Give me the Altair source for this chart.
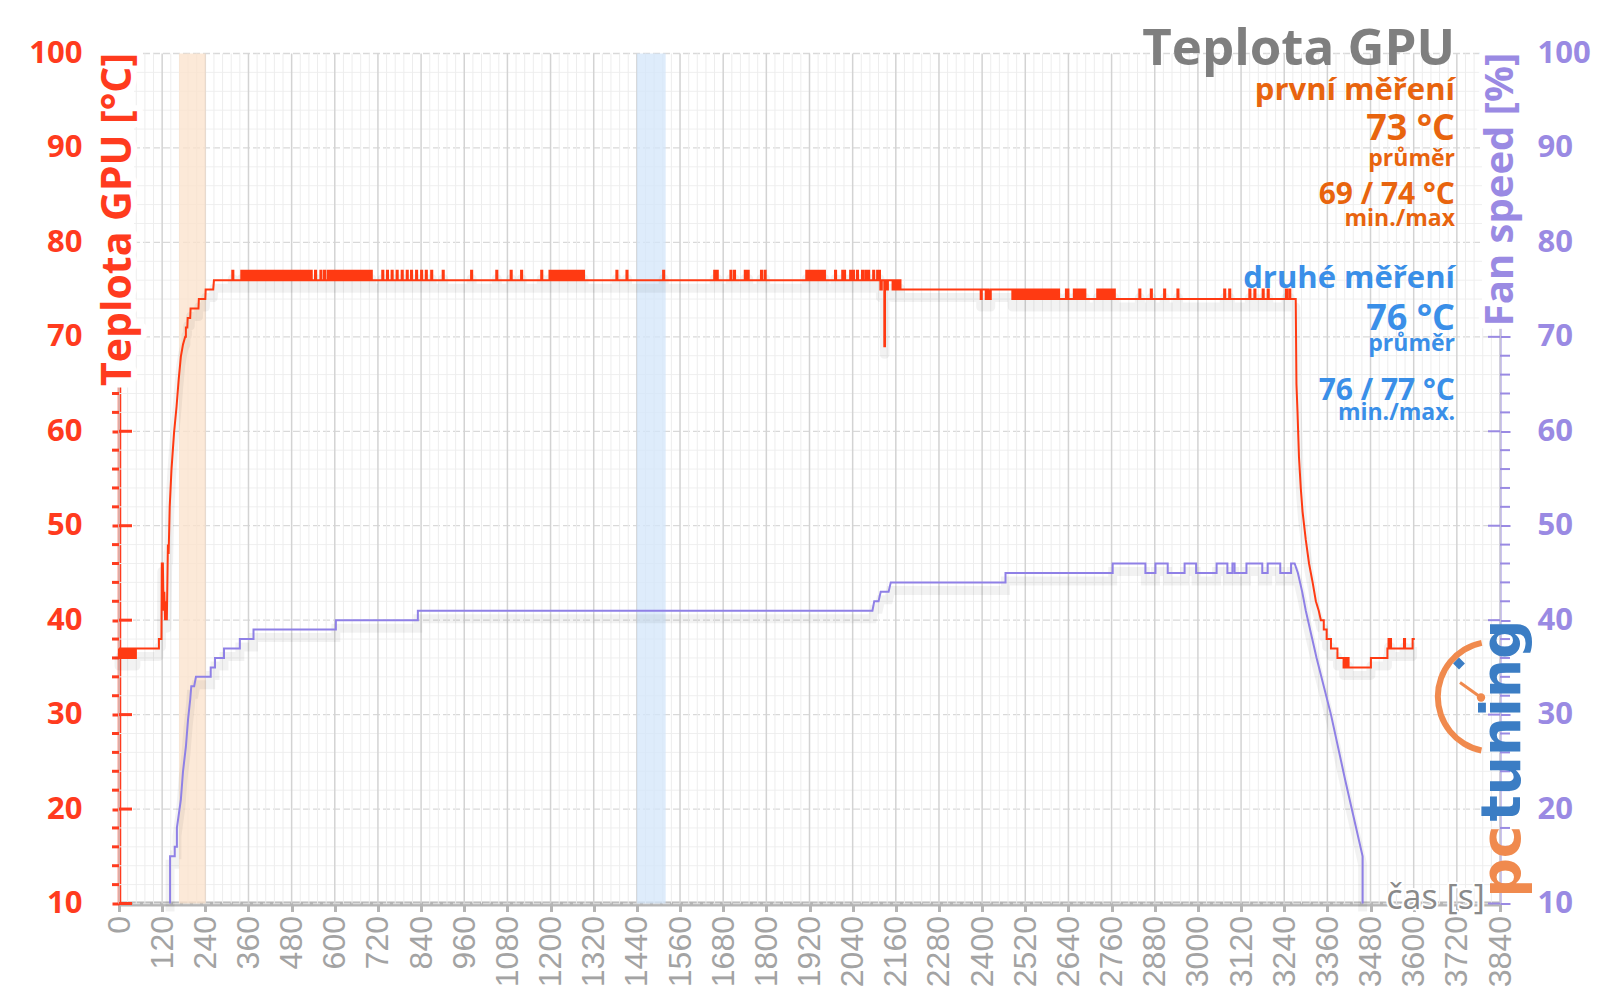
import math
import altair as alt
import pandas as pd

# ---------------- data ----------------
X_TICKS = list(range(0, 3841, 120))
Y_TICKS = list(range(10, 101, 10))
X_MINOR = [t for t in range(0, 3841, 24) if t % 120]
Y_MINOR = [v for v in range(10, 101, 2) if v % 10]

BAND_ORANGE = [167, 241]
BAND_BLUE = [1440, 1520]

TEMP_START_DIPS = [0, 4, 8, 12, 16, 20, 24, 28, 32, 36, 40, 44]
RAMP_T = [111, 111, 118, 119, 122, 124, 126, 128, 131, 133, 136, 138, 141, 146, 153, 160,
          166, 172, 178, 184, 186, 186, 190, 191, 198, 199, 221, 222, 240, 241, 262, 264]
RAMP_V = [37, 38, 38, 46, 46, 41, 43, 40, 42, 40, 48, 47, 52, 56, 59.8, 62.6,
          65.5, 67.9, 69.2, 70, 70, 71, 71, 72, 72, 73, 73, 74, 74, 75, 75, 76]
SPIKES_77 = [315, 340, 344, 348, 353, 357, 362, 366, 371, 375, 380, 385, 389, 394, 398, 403,
             408, 412, 417, 421, 426, 431, 435, 440, 445, 449, 454, 459, 463, 468, 472, 477,
             482, 486, 491, 496, 500, 505, 510, 514, 519, 524, 528, 533, 545, 560, 570, 580,
             585, 590, 595, 600, 605, 610, 615, 620, 625, 630, 635, 640, 645, 650, 655, 660,
             665, 670, 675, 680, 685, 690, 695, 700, 732, 745, 758, 772, 786, 800, 812, 826,
             840, 853, 868, 900, 979, 1049, 1089, 1118, 1174, 1197, 1204, 1212, 1220, 1228,
             1235, 1243, 1250, 1258, 1266, 1274, 1282, 1290, 1383, 1411, 1513, 1655, 1662,
             1700, 1710, 1740, 1748, 1785, 1795, 1911, 1918, 1925, 1932, 1940, 1947, 1955,
             1960, 1991, 2011, 2016, 2033, 2041, 2052, 2066, 2075, 2083, 2097, 2108, 2113]
TRANS_T = [2117, 2121, 2121, 2128, 2128, 2130, 2130, 2134, 2134, 2138, 2138, 2150]
TRANS_V = [75, 75, 76, 76, 69, 69, 76, 76, 75, 75, 76, 76]
BLOCK_DIPS_75 = [2151, 2155, 2159, 2163, 2167]
DIPS_74 = [2396, 2410, 2414, 2418, 2421]
SPIKES_75 = [2486, 2491, 2496, 2501, 2506, 2511, 2516, 2521, 2526, 2531, 2536, 2541, 2546,
             2551, 2556, 2561, 2566, 2571, 2576, 2581, 2586, 2591, 2596, 2601, 2606, 2611,
             2633, 2637, 2655, 2660, 2665, 2672, 2678, 2684, 2720, 2726, 2732, 2740, 2746,
             2752, 2760, 2766, 2837, 2869, 2906, 2943, 3073, 3087, 3143, 3157, 3180, 3194,
             3245, 3254]
DROP_T = [3272, 3274, 3277, 3281, 3286, 3291, 3300, 3309, 3319, 3328, 3336, 3342, 3350, 3350,
          3358, 3358, 3370, 3370, 3388, 3388, 3405, 3405]
DROP_V = [74, 65, 62, 57.3, 54, 51.5, 48.5, 46, 44, 42, 41, 40, 40, 39,
          39, 38, 38, 37, 37, 36, 36, 35]
SPIKES_36 = [3408, 3412, 3416]
SPIKES_38 = [3530, 3534, 3573]

FAN_T = [142, 142, 155, 155, 161, 161, 172, 178, 186, 192, 198, 201, 209, 214,
         255, 255, 267, 267, 292, 292, 336, 336, 374, 374, 603, 603, 831, 831,
         2095, 2100, 2112, 2118, 2140, 2146, 2465, 2465, 2763, 2763,
         2854, 2854, 2882, 2882, 2916, 2916, 2963, 2963, 2995, 2995, 3052, 3052,
         3082, 3082, 3096, 3096, 3102, 3102, 3135, 3135, 3179, 3179, 3194, 3194,
         3229, 3229, 3259, 3259, 3269, 3278, 3290, 3300, 3330, 3370, 3410, 3440, 3458, 3458]
FAN_V = [10, 15, 15, 16, 16, 18, 21, 24, 26.6, 29.5, 31.6, 33, 33, 34,
         34, 35, 35, 36, 36, 37, 37, 38, 38, 39, 39, 40, 40, 41,
         41, 42, 42, 43, 43, 44, 44, 45, 45, 46,
         46, 45, 45, 46, 46, 45, 45, 46, 46, 45, 45, 46,
         46, 45, 45, 46, 46, 45, 45, 46, 46, 45, 45, 46,
         46, 45, 45, 46, 46, 45, 43, 41, 36, 30, 23, 18, 15, 10]

# ---------------- build temperature path ----------------
pts = []


def add(t, v):
    pts.append((t, v))


def plateau(t0, t1, base, marks, delta, w=3):
    add(t0, base)
    for s in marks:
        add(s, base)
        add(s, base + delta)
        add(s + w, base + delta)
        add(s + w, base)
    add(t1, base)


plateau(0, 111, 37, TEMP_START_DIPS, -1)
for t, v in zip(RAMP_T, RAMP_V):
    add(t, v)
plateau(264, 2117, 76, SPIKES_77, +1)
for t, v in zip(TRANS_T, TRANS_V):
    add(t, v)
plateau(2150, 2173, 76, BLOCK_DIPS_75, -1)
add(2173, 75)
plateau(2173, 2484, 75, DIPS_74, -1)
add(2484, 74)
plateau(2484, 3272, 74, SPIKES_75, +1)
for t, v in zip(DROP_T, DROP_V):
    add(t, v)
plateau(3405, 3481, 35, SPIKES_36, +1)
add(3481, 36)
add(3527, 36)
add(3527, 37)
plateau(3527, 3597, 37, SPIKES_38, +1)
add(3597, 38)
add(3603, 38)

temp_df = pd.DataFrame({"t": [p[0] for p in pts], "v": [p[1] for p in pts],
                        "i": list(range(len(pts)))})
fan_df = pd.DataFrame({"t": FAN_T, "f": FAN_V, "i": list(range(len(FAN_T)))})

# ---------------- styling ----------------
W, H = 1381, 850
RED = "#FF3B1E"
TEMP_COLOR = "#FF3A12"
FAN_COLOR = "#8F80E6"
PURPLE = "#9A8AE3"
ORANGE_TXT = "#E8640E"
BLUE_TXT = "#3A8FE8"
FONT = "Open Sans"

xs = alt.Scale(domain=[0, 3840], nice=False, zero=False)
ys = alt.Scale(domain=[10, 100], nice=False, zero=False)
fs = alt.Scale(domain=[10, 100], nice=False, zero=False)

x_axis = alt.Axis(values=X_TICKS, format="d", labelAngle=270, labelFont="Liberation Sans",
                  labelFontSize=32, labelColor="#a3a3a3", labelPadding=4,
                  tickColor="#b5b5b5", tickWidth=3, tickSize=8,
                  domainColor="#b5b5b5", domainWidth=5, grid=False, title=None,
                  labelOverlap=False, labelFlush=False)
y_axis = alt.Axis(orient="left", values=Y_TICKS, labelFont=FONT, labelFontSize=31,
                  labelFontWeight="bold", labelColor=RED, labelPadding=30,
                  tickColor=RED, tickWidth=3, tickSize=7, domainColor=RED,
                  domainWidth=3.5, grid=False, title=None)
f_axis = alt.Axis(orient="right", values=Y_TICKS, labelFont=FONT, labelFontSize=31,
                  labelFontWeight="bold", labelColor=PURPLE, labelPadding=27,
                  tickColor=PURPLE, tickWidth=2, tickSize=10, domainColor=PURPLE,
                  domainWidth=2, grid=False, title=None)

X = lambda f: alt.X(f, type="quantitative", scale=xs, axis=x_axis)
Y = lambda f: alt.Y(f, type="quantitative", scale=ys, axis=y_axis)
F = lambda f: alt.Y(f, type="quantitative", scale=fs, axis=f_axis)

ymin_df = pd.DataFrame({"v": Y_MINOR})
ymaj_df = pd.DataFrame({"v": Y_TICKS})
xmin_df = pd.DataFrame({"t": X_MINOR})
xmaj_df = pd.DataFrame({"t": X_TICKS})
band_df = pd.DataFrame({"a": [BAND_ORANGE[0], BAND_BLUE[0]], "b": [BAND_ORANGE[1], BAND_BLUE[1]],
                        "c": ["#FBE1CB", "#D3E5FA"]})

g_ymin = alt.Chart(ymin_df).mark_rule(color="#efefef", strokeWidth=1).encode(y=Y("v"))
g_ymaj = alt.Chart(ymaj_df).mark_rule(color="#d9d9d9", strokeWidth=1.3,
                                      strokeDash=[7, 3]).encode(y=Y("v"))
g_xmin = alt.Chart(xmin_df).mark_rule(color="#ededed", strokeWidth=1).encode(x=X("t"))
g_xmaj = alt.Chart(xmaj_df).mark_rule(color="#d3d3d3", strokeWidth=1.5).encode(x=X("t"))
bands = alt.Chart(band_df).mark_rect(opacity=0.75).encode(
    x=X("a"), x2="b", color=alt.Color("c:N", scale=None))

lt_major = alt.Chart(ymaj_df).mark_rule(color=RED, strokeWidth=3).encode(
    y=Y("v"), x=alt.value(0), x2=alt.value(13))
lt_minor = alt.Chart(ymin_df).mark_rule(color=RED, strokeWidth=3).encode(
    y=Y("v"), x=alt.value(-7), x2=alt.value(0))

temp_shadow = alt.Chart(temp_df).mark_line(color="#000000", opacity=0.05, strokeWidth=9,
                                           yOffset=8, strokeJoin="round").encode(
    x=X("t"), y=Y("v"), order="i:Q")
temp_line = alt.Chart(temp_df).mark_line(color=TEMP_COLOR, strokeWidth=2,
                                         strokeJoin="miter").encode(
    x=X("t"), y=Y("v"), order="i:Q")

rt_major = alt.Chart(ymaj_df.rename(columns={"v": "f"})).mark_rule(color=PURPLE, strokeWidth=2).encode(
    y=F("f"), x=alt.value(W - 12), x2=alt.value(W))
rt_minor = alt.Chart(ymin_df.rename(columns={"v": "f"})).mark_rule(color=PURPLE, strokeWidth=2).encode(
    y=F("f"), x=alt.value(W), x2=alt.value(W + 10))
fan_shadow = alt.Chart(fan_df).mark_line(color="#000000", opacity=0.05, strokeWidth=9,
                                         yOffset=8).encode(x=X("t"), y=F("f"), order="i:Q")
fan_line = alt.Chart(fan_df).mark_line(color=FAN_COLOR, strokeWidth=2,
                                       interpolate="linear").encode(
    x=X("t"), y=F("f"), order="i:Q")

one = pd.DataFrame({"k": [0]})


def txt(s, x, y, size, color, weight="bold", align="right", angle=0, font=FONT,
        baseline="alphabetic", halo=0):
    layers = []
    if halo:
        layers.append(alt.Chart(one).mark_text(
            text=s, font=font, fontSize=size, fontWeight=weight, align=align,
            baseline=baseline, angle=angle, color="white", stroke="white",
            strokeWidth=halo, strokeJoin="round").encode(x=alt.value(x), y=alt.value(y)))
    layers.append(alt.Chart(one).mark_text(
        text=s, font=font, fontSize=size, fontWeight=weight, align=align,
        baseline=baseline, angle=angle, color=color).encode(x=alt.value(x), y=alt.value(y)))
    return layers


def white_box(x, x2, y, y2):
    return alt.Chart(one).mark_rect(color="white").encode(
        x=alt.value(x), x2=alt.value(x2), y=alt.value(y), y2=alt.value(y2))


RX = 1336
texts = []
texts += txt("Teplota GPU", RX, 11.5, 51, "#7f7f7f")
texts += txt("první měření", RX, 46.5, 31, ORANGE_TXT)
texts += txt("73 °C", RX, 86.5, 36, ORANGE_TXT)
texts += txt("průměr", RX, 112, 23, ORANGE_TXT)
texts += txt("69 / 74 °C", RX, 150, 30, ORANGE_TXT)
texts += txt("min./max", RX, 172, 23, ORANGE_TXT)
texts += txt("druhé měření", RX, 234.5, 31, BLUE_TXT)
texts += txt("76 °C", RX, 276.5, 36, BLUE_TXT)
texts += txt("průměr", RX, 297, 23, BLUE_TXT)
texts += txt("76 / 77 °C", RX, 346.5, 30, BLUE_TXT)
texts += txt("min./max.", RX, 366, 23, BLUE_TXT)

boxes = [white_box(-21, 15, 0, 334), white_box(1363, 1399, 4, 270)]
texts += txt("Teplota GPU [°C]", 12, 166, 41, RED, align="center", angle=270, halo=12)
texts += txt("Fan speed [%]", 1394, 136, 40, PURPLE, align="center", angle=270, halo=12)
texts += txt("čas [s]", 1366, 855, 34, "#8a8a8a", weight="normal", halo=4)

# logo
LOGO_ORANGE = "#F08A4E"
LOGO_BLUE = "#3B7DC4"
logo = [
    alt.Chart(one).mark_arc(theta=3.35, theta2=6.08, radius=52, radius2=58,
                            color=LOGO_ORANGE, x=1373.8, y=643.2),
    alt.Chart(one).mark_rule(color=LOGO_ORANGE, strokeWidth=3).encode(
        x=alt.value(1341), x2=alt.value(1362), y=alt.value(629), y2=alt.value(644)),
    alt.Chart(one).mark_point(shape="circle", filled=True, size=70, color=LOGO_ORANGE,
                              opacity=1).encode(x=alt.value(1362), y=alt.value(644)),
    alt.Chart(one).mark_point(shape="square", filled=True, size=70, color=LOGO_BLUE,
                              angle=45, opacity=1).encode(x=alt.value(1340), y=alt.value(610)),
]
logo += txt("pc", 1401, 844, 55, LOGO_ORANGE, weight="bold", align="left", angle=270,
            font="DejaVu Sans")
logo += txt("tuning", 1401, 768, 55, LOGO_BLUE, weight="bold", align="left", angle=270,
            font="DejaVu Sans")

left = alt.layer(g_ymin, g_ymaj, g_xmin, g_xmaj, bands, lt_major, lt_minor,
                 temp_shadow, temp_line)
right = alt.layer(rt_major, rt_minor, fan_shadow, fan_line)

chart = alt.layer(left, right, *boxes, *logo, *texts).resolve_scale(y="independent").properties(
    width=W, height=H,
    padding={"left": 119, "top": 53.5, "right": 100, "bottom": 94.5},
    autosize=alt.AutoSizeParams(type="none"),
    background="white",
).configure_view(stroke=None)

chart.save("out.html", embed_options={"renderer": "svg", "actions": False})
